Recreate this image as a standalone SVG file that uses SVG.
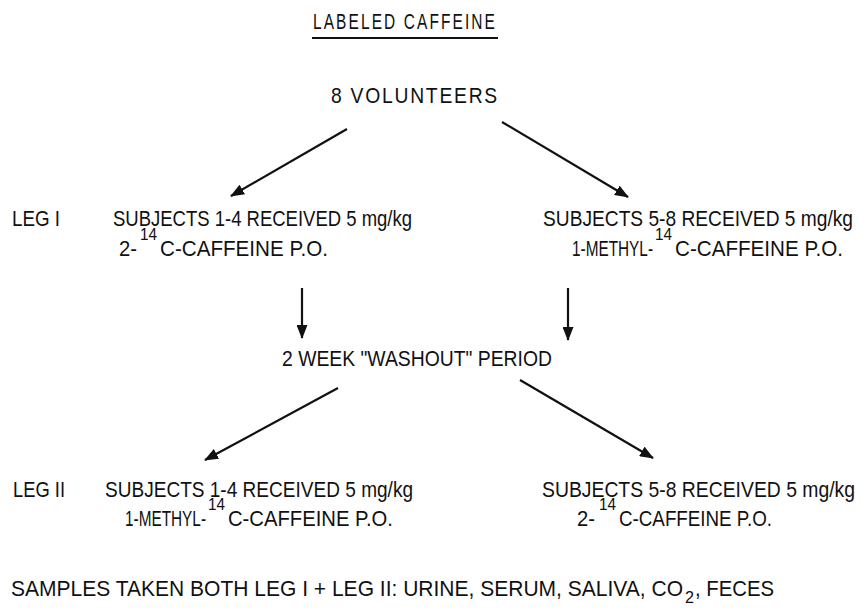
<svg xmlns="http://www.w3.org/2000/svg" width="861" height="612" viewBox="0 0 861 612">
<style>
text{font-family:"Liberation Sans Narrow","Liberation Sans",Arial,sans-serif;font-size:22px;fill:#111;}
.sup{font-size:16px;}
.conn line{stroke:#111;stroke-width:2.2;marker-end:url(#ah);}
</style>
<defs>
<marker id="ah" viewBox="0 0 14 11" refX="13" refY="5.5" markerWidth="14" markerHeight="11" markerUnits="userSpaceOnUse" orient="auto">
<path d="M0,0 L14,5.5 L0,11 Z" fill="#111"/>
</marker>
</defs>
<rect width="861" height="612" fill="#fff"/>
<g id="title">
<text x="313" y="29" textLength="184" lengthAdjust="spacingAndGlyphs" style="letter-spacing:3px">LABELED CAFFEINE</text>
<line x1="312" y1="38" x2="498" y2="38" stroke="#111" stroke-width="2"/>
</g>
<g id="volunteers">
<text x="331" y="103" textLength="168" lengthAdjust="spacingAndGlyphs" style="letter-spacing:2px">8 VOLUNTEERS</text>
</g>
<g id="leg1-label"><text x="12" y="226" textLength="48" lengthAdjust="spacingAndGlyphs">LEG I</text></g>
<g id="leg1-left">
<text x="113" y="226" textLength="299" lengthAdjust="spacingAndGlyphs">SUBJECTS 1-4 RECEIVED 5 mg/kg</text>
<text x="119" y="256" textLength="18" lengthAdjust="spacingAndGlyphs">2-</text>
<text class="sup" x="140" y="240" textLength="17" lengthAdjust="spacingAndGlyphs">14</text>
<text x="160" y="256" textLength="168" lengthAdjust="spacingAndGlyphs">C-CAFFEINE P.O.</text>
</g>
<g id="leg1-right">
<text x="543" y="226" textLength="310" lengthAdjust="spacingAndGlyphs">SUBJECTS 5-8 RECEIVED 5 mg/kg</text>
<text x="572" y="256" textLength="81" lengthAdjust="spacingAndGlyphs">1-METHYL-</text>
<text class="sup" x="655" y="240" textLength="17" lengthAdjust="spacingAndGlyphs">14</text>
<text x="675" y="256" textLength="168" lengthAdjust="spacingAndGlyphs">C-CAFFEINE P.O.</text>
</g>
<g id="washout">
<text x="282" y="366" textLength="270" lengthAdjust="spacingAndGlyphs">2 WEEK "WASHOUT" PERIOD</text>
</g>
<g id="leg2-label"><text x="13" y="497" textLength="52" lengthAdjust="spacingAndGlyphs">LEG II</text></g>
<g id="leg2-left">
<text x="105" y="497" textLength="308" lengthAdjust="spacingAndGlyphs">SUBJECTS 1-4 RECEIVED 5 mg/kg</text>
<text x="125" y="526" textLength="81" lengthAdjust="spacingAndGlyphs">1-METHYL-</text>
<text class="sup" x="208" y="510" textLength="17" lengthAdjust="spacingAndGlyphs">14</text>
<text x="228" y="526" textLength="165" lengthAdjust="spacingAndGlyphs">C-CAFFEINE P.O.</text>
</g>
<g id="leg2-right">
<text x="542" y="497" textLength="313" lengthAdjust="spacingAndGlyphs">SUBJECTS 5-8 RECEIVED 5 mg/kg</text>
<text x="577" y="526" textLength="18" lengthAdjust="spacingAndGlyphs">2-</text>
<text class="sup" x="599" y="510" textLength="17" lengthAdjust="spacingAndGlyphs">14</text>
<text x="619" y="526" textLength="153" lengthAdjust="spacingAndGlyphs">C-CAFFEINE P.O.</text>
</g>
<g id="samples">
<text x="11" y="596" textLength="672" lengthAdjust="spacingAndGlyphs">SAMPLES TAKEN BOTH LEG I + LEG II: URINE, SERUM, SALIVA, CO</text>
<text class="sup" x="685" y="603" textLength="9" lengthAdjust="spacingAndGlyphs">2</text>
<text x="695" y="596" textLength="79" lengthAdjust="spacingAndGlyphs">, FECES</text>
</g>
<g class="conn" id="connectors">
<line x1="347" y1="129" x2="231" y2="196"/>
<line x1="502" y1="122" x2="628" y2="197"/>
<line x1="302" y1="288" x2="302" y2="338"/>
<line x1="568" y1="288" x2="568" y2="340"/>
<line x1="338" y1="388" x2="205" y2="460"/>
<line x1="520" y1="380" x2="653" y2="458"/>
</g>
</svg>
